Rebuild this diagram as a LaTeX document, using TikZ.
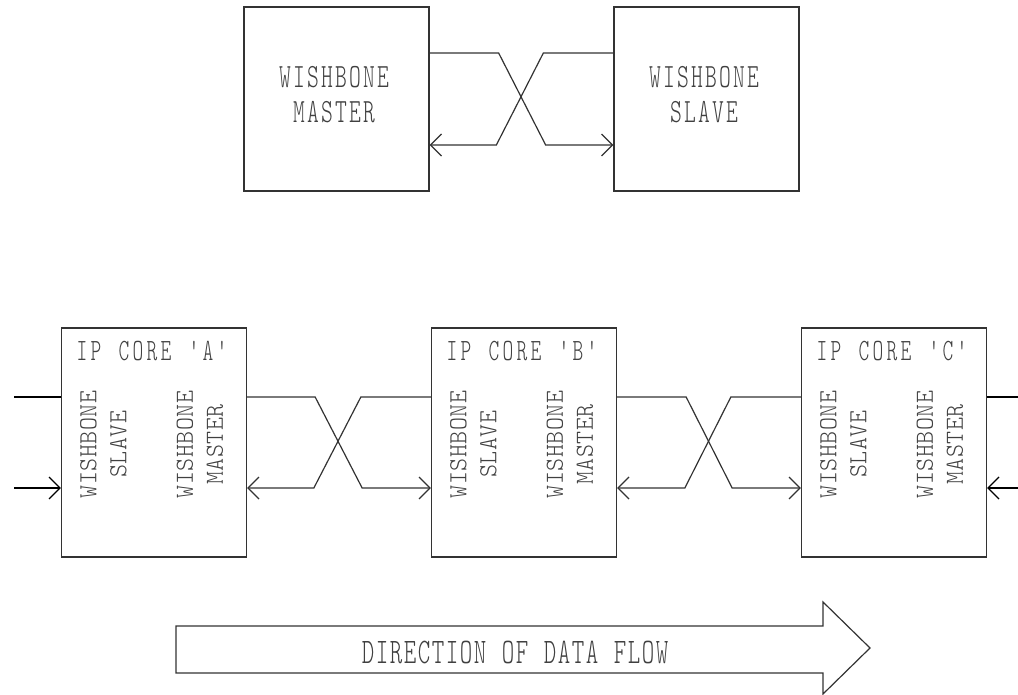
\documentclass[tikz,border=0pt]{standalone}
\usepackage{fontspec}
\usepackage{graphicx}
\newfontfamily\wbf{Latin Modern Mono Light}
\usetikzlibrary{arrows.meta}
\ExplSyntaxOn
\NewDocumentCommand \spc { m m m }
  { \str_map_inline:nn {#3} { \makebox[#1]{\scalebox{#2}[1]{##1}} } }
\ExplSyntaxOff
\newcommand\hs[1]{\spc{14pt}{0.66}{#1}}
\newcommand\vs[1]{\spc{13.5pt}{0.95}{#1}}
\tikzset{
  boxnode/.style={draw=black!80, line width=1.3pt, minimum width=185pt, inner sep=0pt},
  topbox/.style={boxnode, minimum height=184pt},
  corebox/.style={boxnode, minimum height=229pt},
  conn/.style={draw=black!80, line width=1.2pt},
  ext/.style={draw=black, line width=1.7pt},
  barb/.style={-{Straight Barb[length=11pt,width=22pt,line width=1.2pt]}},
  bigtxt/.style={font=\wbf\fontsize{34}{35}\selectfont, text=black!75, align=center, inner sep=0pt},
  coretxt/.style={font=\wbf\fontsize{31}{33}\selectfont, text=black!75, inner sep=0pt},
  flowtxt/.style={font=\wbf\fontsize{36}{38}\selectfont, text=black!75, inner sep=0pt},
  vtxt/.style={font=\wbf\fontsize{26}{30}\selectfont, text=black!75, align=center, inner sep=0pt, rotate=90},
}
\begin{document}
\begin{tikzpicture}[x=1pt,y=-1pt]
\useasboundingbox (0,0) rectangle (1018,695);
% top pair
\node[topbox] (M) at (336.5,99) {};
\node[topbox] (S) at (706.5,99) {};
\node[bigtxt] (Mt) at (334,94.5) {\hs{WISHBONE}\\\hs{MASTER}};
\node[bigtxt] (St) at (704,94.5) {\hs{WISHBONE}\\\hs{SLAVE}};
\draw[conn,barb] ([yshift=46]M.east) -- ++(69,0) -- ++(47,92) -- ([yshift=-46]S.west);
\draw[conn,barb] ([yshift=46]S.west) -- ++(-70,0) -- ++(-47,92) -- ([yshift=-46]M.east);
% IP cores
\foreach \n/\cx in {A/154, B/524, C/894}{
  \node[corebox] (\n) at (\cx,442.5) {};
  \node[vtxt] (\n s) at ([xshift=-50.5,yshift=-2]\n.center) {\vs{WISHBONE}\\\vs{SLAVE}};
  \node[vtxt] (\n m) at ([xshift=46,yshift=-2]\n.center) {\vs{WISHBONE}\\\vs{MASTER}};
}
\node[coretxt] (At) at ([xshift=-2,yshift=-23.5]A.north) {\hs{IP CORE 'A'}};
\node[coretxt] (Bt) at ([xshift=-2,yshift=-23.5]B.north) {\hs{IP CORE 'B'}};
\node[coretxt] (Ct) at ([xshift=-2,yshift=-23.5]C.north) {\hs{IP CORE 'C'}};
\draw[conn,barb] ([yshift=45.5]A.east) -- ++(68,0) -- ++(47,91) -- ([yshift=-45.5]B.west);
\draw[conn,barb] ([yshift=45.5]B.west) -- ++(-70,0) -- ++(-47,91) -- ([yshift=-45.5]A.east);
\draw[conn,barb] ([yshift=45.5]B.east) -- ++(69,0) -- ++(46,91) -- ([yshift=-45.5]C.west);
\draw[conn,barb] ([yshift=45.5]C.west) -- ++(-70,0) -- ++(-46,91) -- ([yshift=-45.5]B.east);
% external connections
\coordinate (L1) at (14,397);
\coordinate (L2) at (14,488);
\coordinate (R1) at (1018,397);
\coordinate (R2) at (1018,488);
\draw[ext] (L1) -- ([yshift=45.5]A.west);
\draw[ext,barb] (L2) -- ([yshift=-45.5]A.west);
\draw[ext] ([yshift=45.5]C.east) -- (R1);
\draw[ext,barb] (R2) -- ([yshift=-45.5]C.east);
% data flow arrow
\draw[draw=black!80, line width=1.2pt] (176,626) -- (823,626) -- (823,602) -- (870,648) -- (823,694) -- (823,673) -- (176,673) -- cycle;
\node[flowtxt] (D) at (515,652) {\hs{DIRECTION OF DATA FLOW}};
\end{tikzpicture}
\end{document}
